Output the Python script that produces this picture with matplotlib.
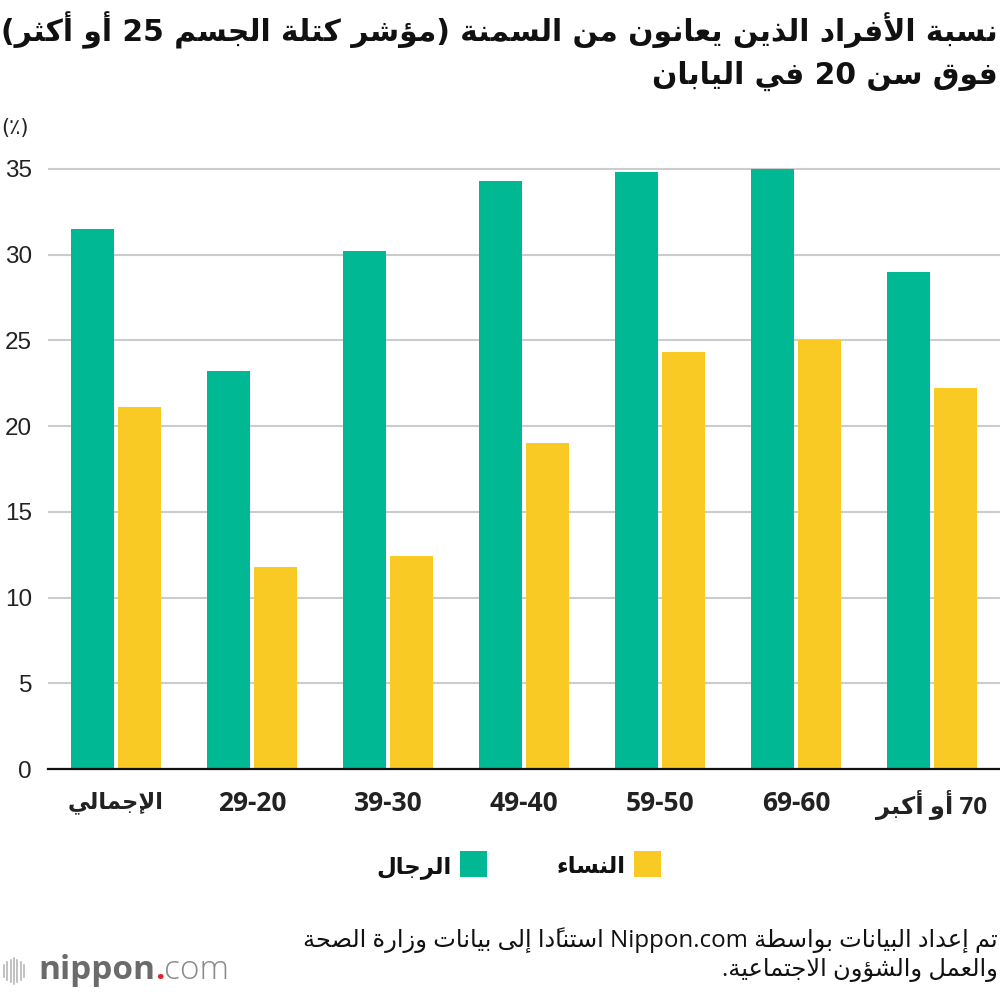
import re
import numpy as np
import matplotlib
matplotlib.use('Agg')
import matplotlib.pyplot as plt
from matplotlib import font_manager as fm
from matplotlib.ft2font import FT2Font
from matplotlib.patches import Rectangle
from matplotlib.lines import Line2D
import matplotlib.patheffects as pe

# ---------------- data ----------------
categories = ['الإجمالي', '20-29', '30-39', '40-49', '50-59', '60-69', '70 أو أكبر']
men = [31.5, 23.2, 30.2, 34.3, 34.8, 35.0, 29.0]
women = [21.1, 11.8, 12.4, 19.0, 24.3, 25.0, 22.2]
series_labels = ['الرجال', 'النساء']
yticks = [0, 5, 10, 15, 20, 25, 30, 35]
title_lines = ['نسبة الأفراد الذين يعانون من السمنة (مؤشر كتلة الجسم 25 أو أكثر)',
               'فوق سن 20 في اليابان']
unit_label = '(٪)'
source_lines = ['تم إعداد البيانات بواسطة Nippon.com استنادًا إلى بيانات وزارة الصحة',
                'والعمل والشؤون الاجتماعية.']

GREEN = '#00b894'
YELLOW = '#f9ca24'

# ---------------- minimal Arabic shaping + bidi ----------------
_tbl = [(0x0621, 0xFE80, 1), (0x0622, 0xFE81, 2), (0x0623, 0xFE83, 2), (0x0624, 0xFE85, 2),
        (0x0625, 0xFE87, 2), (0x0626, 0xFE89, 4), (0x0627, 0xFE8D, 2), (0x0628, 0xFE8F, 4),
        (0x0629, 0xFE93, 2), (0x062A, 0xFE95, 4), (0x062B, 0xFE99, 4), (0x062C, 0xFE9D, 4),
        (0x062D, 0xFEA1, 4), (0x062E, 0xFEA5, 4), (0x062F, 0xFEA9, 2), (0x0630, 0xFEAB, 2),
        (0x0631, 0xFEAD, 2), (0x0632, 0xFEAF, 2), (0x0633, 0xFEB1, 4), (0x0634, 0xFEB5, 4),
        (0x0635, 0xFEB9, 4), (0x0636, 0xFEBD, 4), (0x0637, 0xFEC1, 4), (0x0638, 0xFEC5, 4),
        (0x0639, 0xFEC9, 4), (0x063A, 0xFECD, 4), (0x0641, 0xFED1, 4), (0x0642, 0xFED5, 4),
        (0x0643, 0xFED9, 4), (0x0644, 0xFEDD, 4), (0x0645, 0xFEE1, 4), (0x0646, 0xFEE5, 4),
        (0x0647, 0xFEE9, 4), (0x0648, 0xFEED, 2), (0x0649, 0xFEEF, 2), (0x064A, 0xFEF1, 4)]
_AR = {}
for c, b, n in _tbl:
    _AR[chr(c)] = [chr(b + k) for k in range(n)] + [None] * (4 - n)
LAMALEF = {'\u0622': (0xFEF5, 0xFEF6), '\u0623': (0xFEF7, 0xFEF8),
           '\u0625': (0xFEF9, 0xFEFA), '\u0627': (0xFEFB, 0xFEFC)}
TRANSPARENT = set(chr(c) for c in range(0x064B, 0x0653)) | {'\u0670'}


def shape(s):
    n = len(s)
    out = []
    skip = set()

    def prev_letter(i):
        j = i - 1
        while j >= 0 and s[j] in TRANSPARENT:
            j -= 1
        return s[j] if j >= 0 else None

    def next_index(i):
        j = i + 1
        while j < n and s[j] in TRANSPARENT:
            j += 1
        return j if j < n else None

    for i, c in enumerate(s):
        if i in skip:
            continue
        if c not in _AR:
            out.append(c)
            continue
        p = prev_letter(i)
        pc = p is not None and p in _AR and _AR[p][2] is not None
        ni = next_index(i)
        nxt = s[ni] if ni is not None else None
        if c == '\u0644' and nxt in LAMALEF:
            iso, fin = LAMALEF[nxt]
            out.append(chr(fin if pc else iso))
            skip.add(ni)
            continue
        nc = nxt is not None and nxt in _AR and nxt != '\u0621'
        f = _AR[c]
        if f[2] is None:
            out.append(f[1] if (pc and f[1]) else f[0])
        else:
            if pc and nc:
                out.append(f[3])
            elif pc:
                out.append(f[1])
            elif nc:
                out.append(f[2])
            else:
                out.append(f[0])
    return ''.join(out)


MIRROR = {'(': ')', ')': '('}
LTR_RE = re.compile(r'[A-Za-z][A-Za-z0-9.]*[A-Za-z0-9]|[A-Za-z]|[0-9]+')
ARABIC_RE = re.compile(r'[\u0600-\u06FF]')


def bidi(s):
    s = shape(s)
    groups = []
    i = 0
    while i < len(s):
        m = LTR_RE.match(s, i)
        if m:
            groups.append(m.group())
            i = m.end()
            continue
        g = MIRROR.get(s[i], s[i])
        i += 1
        while i < len(s) and s[i] in TRANSPARENT:
            g += s[i]
            i += 1
        groups.append(g)
    return ''.join(reversed(groups))


def has_glyph(family, weight, ch):
    try:
        path = fm.findfont(fm.FontProperties(family=family, weight=weight),
                           fallback_to_default=False)
        return FT2Font(path).get_char_index(ord(ch)) != 0
    except Exception:
        return False


BOLD_AR_OK = has_glyph('DejaVu Sans', 'bold', '\uFEFB')
AR_BOLD_KW = dict(weight='bold') if BOLD_AR_OK else dict(
    weight='normal', path_effects=[pe.withStroke(linewidth=1.2, foreground='#111111')])

# ---------------- figure ----------------
W, H = 1000, 992
fig = plt.figure(figsize=(W / 100, H / 100), dpi=100)
fig.patch.set_facecolor('white')


def fx(x):
    return x / W


def fy(y):
    return 1 - y / H


ax_left, ax_right, ax_bottom = 48, 1000, 769
ppu = 600 / 35.0
ytop = 35.3
ax = fig.add_axes([fx(ax_left), fy(ax_bottom), (ax_right - ax_left) / W, ytop * ppu / H])

x = np.arange(len(categories))
bw = 0.316
off = 0.176
ax.bar(x - off, men, bw, color=GREEN, zorder=3)
ax.bar(x + off, women, bw, color=YELLOW, zorder=3)

ax.set_xlim(-0.5, len(categories) - 0.5)
ax.set_ylim(0, ytop)
ax.set_yticks(yticks)
ax.set_yticklabels([str(v) for v in yticks], family='Liberation Sans', fontsize=17.5, color='#222222')
ax.yaxis.grid(True, color='#cccccc', linewidth=1.5, zorder=0)
ax.set_axisbelow(True)
for s in ['top', 'right', 'left']:
    ax.spines[s].set_visible(False)
ax.spines['bottom'].set_color('#111111')
ax.spines['bottom'].set_linewidth(1.6)
ax.spines['bottom'].set_zorder(4)
ax.tick_params(axis='y', length=0, pad=11.5)
ax.tick_params(axis='x', length=0, pad=15)
ax.set_xticks(x)
xlabels = ax.set_xticklabels([bidi(c) for c in categories], family=['Open Sans', 'DejaVu Sans'],
                             fontsize=19, color='#222222', **AR_BOLD_KW)
for lab, raw in zip(xlabels, categories):
    if ARABIC_RE.search(raw) and not re.search(r'[0-9]', raw):
        lab.set_fontsize(16.3)
    elif ARABIC_RE.search(raw):
        lab.set_fontsize(17.5)

renderer = fig.canvas.get_renderer()


def width_of(t):
    return t.get_window_extent(renderer).width


# title
t1 = fig.text(fx(998), fy(41), bidi(title_lines[0]), ha='right', va='baseline',
              family=['DejaVu Sans'], fontsize=20, color='#111111', **AR_BOLD_KW)
size = 20 * 995 / width_of(t1)
t1.set_fontsize(size)
fig.text(fx(998), fy(84), bidi(title_lines[1]), ha='right', va='baseline',
         family=['DejaVu Sans'], fontsize=size, color='#111111', **AR_BOLD_KW)

# unit
fig.text(fx(1), fy(134), bidi(unit_label), ha='left', va='baseline',
         family=['DejaVu Sans'], fontsize=15, color='#222222')

# legend (RTL: men on the right)
leg_items = [(series_labels[1], YELLOW, 634), (series_labels[0], GREEN, 460)]
for lab, col, sx in leg_items:
    fig.add_artist(Rectangle((fx(sx), fy(877)), 27 / W, 26 / H, transform=fig.transFigure,
                             facecolor=col, edgecolor='none'))
    fig.text(fx(sx - 8), fy(873), bidi(lab), ha='right', va='baseline',
             family=['DejaVu Sans'], fontsize=16.5, color='#111111', **AR_BOLD_KW)

# source
s1 = fig.text(fx(998), fy(947), bidi(source_lines[0]), ha='right', va='baseline',
              family=['Open Sans', 'DejaVu Sans'], fontsize=15, color='#111111')
ssize = 15 * 698 / width_of(s1)
s1.set_fontsize(ssize)
fig.text(fx(998), fy(976), bidi(source_lines[1]), ha='right', va='baseline',
         family=['Open Sans', 'DejaVu Sans'], fontsize=ssize, color='#111111')

# logo
for lx, lh in zip([4, 7.3, 10.7, 14, 17.3, 20.7, 24], [12, 18, 22, 26, 22, 18, 12]):
    fig.add_artist(Line2D([fx(lx), fx(lx)], [fy(971 - lh / 2), fy(971 + lh / 2)],
                          transform=fig.transFigure, color='#b0b0b0', linewidth=1.1))
n1 = fig.text(fx(38), fy(979), 'nippon', ha='left', va='baseline', family='Open Sans',
              weight='bold', fontsize=23, color='#6b6b6b')
n1.set_fontsize(23 * 117 / width_of(n1))
bb = n1.get_window_extent(renderer)
n2 = fig.text(bb.x1 / W, fy(979), '.', ha='left', va='baseline', family='Open Sans',
              weight='bold', fontsize=n1.get_fontsize(), color='#e8202a')
bb2 = n2.get_window_extent(renderer)
fig.text(bb2.x1 / W, fy(979), 'com', ha='left', va='baseline', family='Open Sans',
         weight='light', fontsize=n1.get_fontsize(), color='#8a8a8a')

fig.savefig('out.png', dpi=100, facecolor='white')
